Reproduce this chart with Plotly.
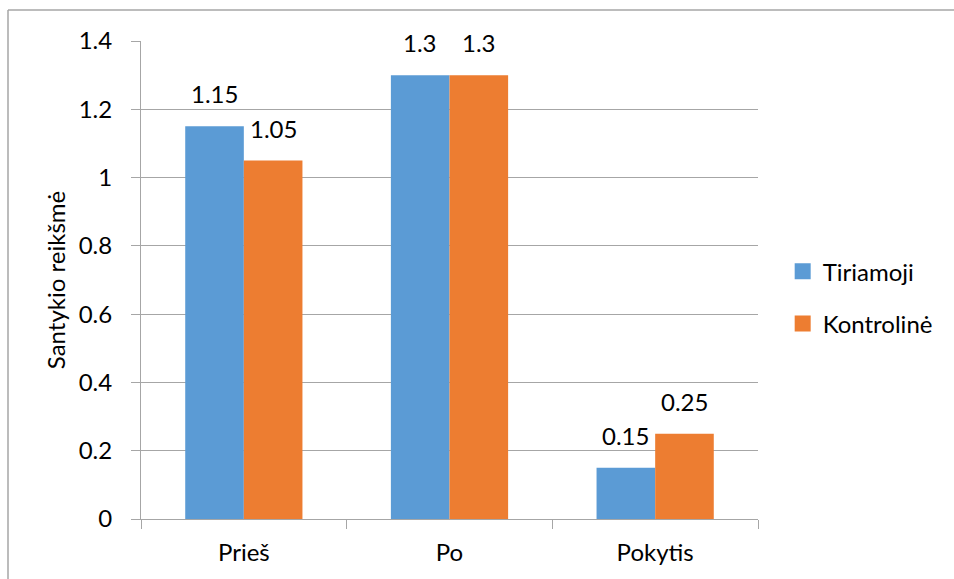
import plotly.graph_objects as go

categories = ["Prieš", "Po", "Pokytis"]
tiriamoji = [1.15, 1.3, 0.15]
kontroline = [1.05, 1.3, 0.25]
series_names = ["Tiriamoji", "Kontrolinė"]
y_title = "Santykio reikšmė"

BLUE = "#5B9BD5"
ORANGE = "#ED7D31"
GRID = "#A6A6A6"
FONT = "Lato"
FS = 24

W, H = 954, 579
L, R, T, B = 141, 196, 41, 60
plot_w = W - L - R
plot_h = H - T - B
bargap = 0.43
bar_px = plot_w / len(categories) * (1 - bargap) / 2

fig = go.Figure()
for name, vals, color, grp in ((series_names[0], tiriamoji, BLUE, "a"),
                               (series_names[1], kontroline, ORANGE, "b")):
    fig.add_bar(x=categories, y=vals, name=name, marker_color=color,
                marker_line_width=0, legendgroup=grp, showlegend=False)
    # legend entry with a larger square swatch
    fig.add_scatter(x=[None], y=[None], mode="markers", name=name,
                    marker=dict(symbol="square", size=16, color=color),
                    legendgroup=grp, showlegend=True)

# value labels above each bar
annotations = []
for vals, shift in ((tiriamoji, -bar_px / 2), (kontroline, bar_px / 2)):
    for c, v in zip(categories, vals):
        annotations.append(dict(
            x=c, y=v, xref="x", yref="y", text=f"{v:g}", showarrow=False,
            xshift=shift, yshift=16, yanchor="bottom",
            font=dict(family=FONT, size=FS, color="#000000"),
        ))

# outer chart border (top and left edges)
shapes = [
    dict(type="line", xref="paper", yref="paper",
         x0=(8 - L) / plot_w, x1=(W + 20 - L) / plot_w,
         y0=(H - B - 10) / plot_h, y1=(H - B - 10) / plot_h,
         line=dict(color=GRID, width=1.5)),
    dict(type="line", xref="paper", yref="paper",
         x0=(8 - L) / plot_w, x1=(8 - L) / plot_w,
         y0=(H - B - 10) / plot_h, y1=-1,
         line=dict(color=GRID, width=1.5)),
]

fig.update_layout(
    width=W, height=H,
    margin=dict(l=L, r=R, t=T, b=B, pad=0),
    paper_bgcolor="white", plot_bgcolor="white",
    barmode="group", bargap=bargap, bargroupgap=0,
    font=dict(family=FONT, size=FS, color="#000000"),
    legend=dict(x=1.04, y=0.463, xanchor="left", yanchor="middle",
                font=dict(family=FONT, size=FS), tracegroupgap=18,
                itemwidth=30,
                bgcolor="rgba(0,0,0,0)", itemclick=False),
    annotations=annotations,
    shapes=shapes,
)
fig.update_xaxes(
    showline=True, linecolor=GRID, linewidth=1,
    ticks="outside", tickson="boundaries", ticklen=9, tickcolor=GRID,
    ticklabelstandoff=12,
    tickfont=dict(family=FONT, size=FS),
    showgrid=False,
)
fig.update_yaxes(
    range=[0, 1.4], dtick=0.2, tick0=0,
    showline=True, linecolor=GRID, linewidth=1,
    ticks="outside", ticklen=9, tickcolor=GRID,
    ticklabelstandoff=14,
    showgrid=True, gridcolor=GRID, gridwidth=1,
    zeroline=False,
    tickfont=dict(family=FONT, size=FS),
    title=dict(text=y_title, font=dict(family=FONT, size=FS), standoff=6),
)

fig.write_html("out.html")
